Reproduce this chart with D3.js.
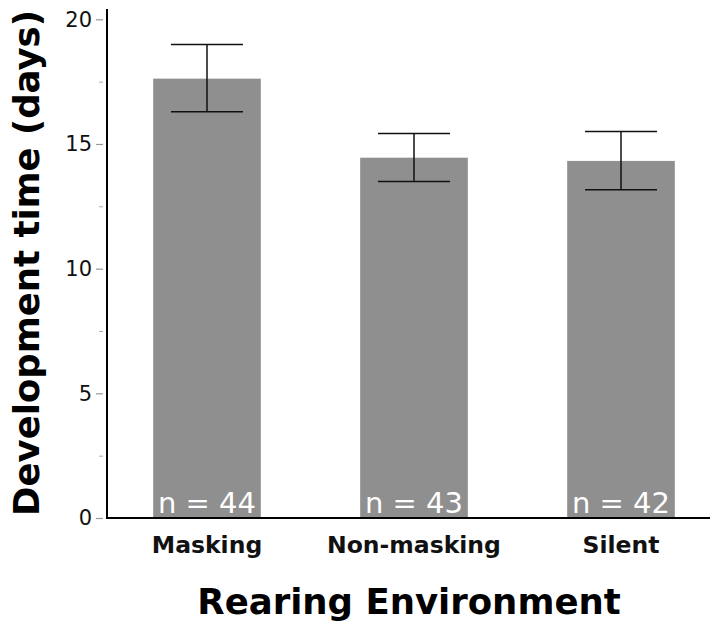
<!DOCTYPE html>
<html>
<head>
<meta charset="utf-8">
<script src="https://cdn.jsdelivr.net/npm/d3@7"></script>
<style>
  body { margin: 0; background: #fff; }
  text { font-family: "DejaVu Sans", sans-serif; }
</style>
</head>
<body>
<div id="chart"></div>
<script>
// data
const categories = ['Masking', 'Non-masking', 'Silent'];
const means = [17.62, 14.45, 14.32];
const errLow = [16.29, 13.50, 13.16];
const errHigh = [18.99, 15.42, 15.50];
const sampleSizes = [44, 43, 42];
const majorTicks = [0, 5, 10, 15, 20];
const minorTicks = [2.5, 7.5, 12.5, 17.5];

const width = 710, height = 624;
const axisX = 107, baseY = 518;

const svg = d3.select('#chart').append('svg')
    .attr('width', width)
    .attr('height', height);

const y = d3.scaleLinear().domain([0, 20]).range([baseY, 19.3]);
const x = d3.scaleBand().domain(categories)
    .range([103.5, 724.5])
    .paddingInner(0.48)
    .paddingOuter(0.24);

// bars
svg.append('g').selectAll('rect')
    .data(categories)
    .join('rect')
    .attr('x', d => x(d))
    .attr('width', x.bandwidth())
    .attr('y', (d, i) => y(means[i]))
    .attr('height', (d, i) => y(0) - y(means[i]) + 1)
    .attr('fill', '#8f8f8f');

// error bars
const capHalf = 36;
const eb = svg.append('g').attr('stroke', '#111').attr('stroke-width', 1.5);
categories.forEach((c, i) => {
    const cx = x(c) + x.bandwidth() / 2;
    eb.append('line').attr('x1', cx).attr('x2', cx)
        .attr('y1', y(errLow[i])).attr('y2', y(errHigh[i]));
    eb.append('line').attr('x1', cx - capHalf).attr('x2', cx + capHalf)
        .attr('y1', y(errLow[i])).attr('y2', y(errLow[i]));
    eb.append('line').attr('x1', cx - capHalf).attr('x2', cx + capHalf)
        .attr('y1', y(errHigh[i])).attr('y2', y(errHigh[i]));
});

// n labels
svg.append('g').selectAll('text')
    .data(categories)
    .join('text')
    .attr('x', d => x(d) + x.bandwidth() / 2)
    .attr('y', 513)
    .attr('text-anchor', 'middle')
    .attr('fill', '#fff')
    .attr('font-size', 29)
    .text((d, i) => `n = ${sampleSizes[i]}`);

// y axis
const yAxis = svg.append('g')
    .attr('transform', `translate(${axisX - 4},0)`)
    .call(d3.axisLeft(y).tickValues(majorTicks).tickSize(7).tickPadding(4));
yAxis.select('.domain').remove();
yAxis.selectAll('line').attr('stroke', '#999').attr('stroke-width', 1.2);
yAxis.selectAll('text').attr('font-size', 21).attr('fill', '#111')
    .attr('font-family', '"DejaVu Sans", sans-serif');

const yMinor = svg.append('g')
    .attr('transform', `translate(${axisX - 4},0)`)
    .call(d3.axisLeft(y).tickValues(minorTicks).tickSize(4).tickFormat(''));
yMinor.select('.domain').remove();
yMinor.selectAll('line').attr('stroke', '#aaa').attr('stroke-width', 1);

// axis lines
svg.append('line')
    .attr('x1', axisX).attr('x2', axisX)
    .attr('y1', 9).attr('y2', baseY)
    .attr('stroke', '#000').attr('stroke-width', 2);
svg.append('line')
    .attr('x1', axisX - 1).attr('x2', width)
    .attr('y1', baseY).attr('y2', baseY)
    .attr('stroke', '#000').attr('stroke-width', 2);

// category labels
svg.append('g').selectAll('text')
    .data(categories)
    .join('text')
    .attr('x', d => x(d) + x.bandwidth() / 2)
    .attr('y', 553)
    .attr('text-anchor', 'middle')
    .attr('font-weight', 'bold')
    .attr('font-size', 23.5)
    .attr('fill', '#111')
    .text(d => d);

// axis titles
svg.append('text')
    .attr('x', 409)
    .attr('y', 614)
    .attr('text-anchor', 'middle')
    .attr('font-weight', 'bold')
    .attr('font-size', 35.5)
    .attr('fill', '#000')
    .text('Rearing Environment');

svg.append('text')
    .attr('transform', 'translate(39,263) rotate(-90)')
    .attr('text-anchor', 'middle')
    .attr('font-weight', 'bold')
    .attr('font-size', 35.5)
    .attr('fill', '#000')
    .text('Development time (days)');
</script>
</body>
</html>
